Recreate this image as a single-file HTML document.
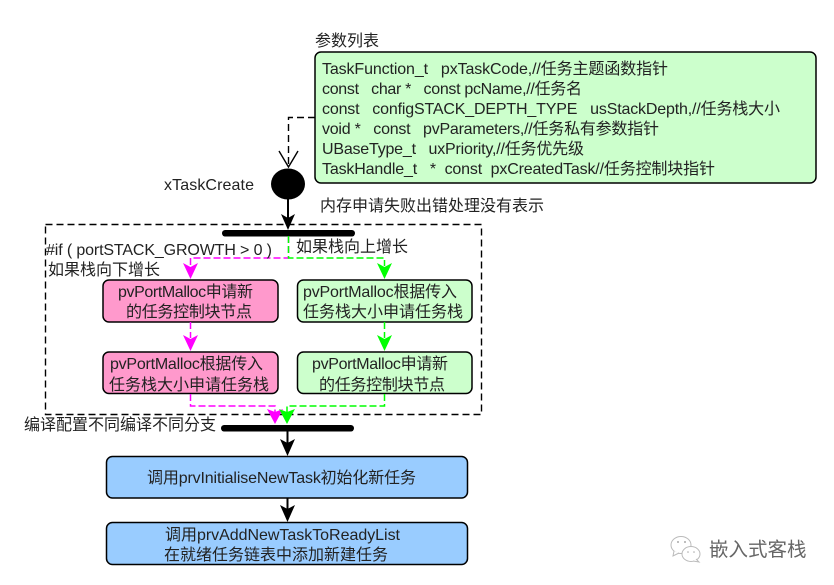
<!DOCTYPE html>
<html><head><meta charset="utf-8"><style>
html,body{margin:0;padding:0;background:#fff;width:834px;height:585px;overflow:hidden}
svg{display:block}
text{font-family:"Liberation Sans","WenQuanYi Zen Hei","Noto Sans CJK SC",sans-serif;font-size:16px;fill:#222;white-space:pre}
</style></head><body>
<svg width="834" height="585" viewBox="0 0 834 585" xmlns="http://www.w3.org/2000/svg">
<rect x="45.5" y="224.5" width="436" height="190" fill="none" stroke="#000" stroke-width="1.4" stroke-dasharray="7 4"/>
<rect x="315" y="52" width="501" height="131" rx="6" fill="#ccffcc" stroke="#000" stroke-width="1.5"/>
<text x="315" y="46">参数列表</text>
<text x="322" y="74" textLength="346">TaskFunction_t   pxTaskCode,//任务主题函数指针</text>
<text x="322" y="94" textLength="260">const   char *   const pcName,//任务名</text>
<text x="322" y="114" textLength="458">const   configSTACK_DEPTH_TYPE   usStackDepth,//任务栈大小</text>
<text x="322" y="134" textLength="337">void *   const   pvParameters,//任务私有参数指针</text>
<text x="322" y="154" textLength="262">UBaseType_t   uxPriority,//任务优先级</text>
<text x="322" y="174" textLength="393">TaskHandle_t   *  const  pxCreatedTask//任务控制块指针</text>
<path d="M315 117.500H288.500V166" fill="none" stroke="#000" stroke-width="1.4" stroke-dasharray="7 4"/>
<path d="M279 151L288.500 167L298 151" fill="none" stroke="#000" stroke-width="1.4"/>
<ellipse cx="288" cy="184" rx="17" ry="15.500" fill="#000"/>
<text x="164" y="190" textLength="90">xTaskCreate</text>
<text x="320" y="211">内存申请失败出错处理没有表示</text>
<path d="M288 199V225" stroke="#000" stroke-width="2"/>
<path d="M281 214L288 218L295 214L288 230Z" fill="#000"/>
<rect x="222" y="230" width="133" height="6.500" rx="3.200" fill="#000"/>
<path d="M288.500 236V258H190.500V266" fill="none" stroke="#ff00ff" stroke-width="1.5" stroke-dasharray="7 3"/>
<path d="M288.500 236V258H384.500V266" fill="none" stroke="#00ff00" stroke-width="1.5" stroke-dasharray="7 3"/>
<path d="M183 263L190.500 267L198 263L190.500 279Z" fill="#ff00ff"/>
<path d="M377 263L384.500 267L392 263L384.500 279Z" fill="#00ff00"/>
<text x="46" y="255" textLength="226">#if ( portSTACK_GROWTH &gt; 0 )</text>
<text x="48" y="275">如果栈向下增长</text>
<text x="296" y="252">如果栈向上增长</text>
<rect x="103" y="280" width="175" height="42" rx="6" fill="#ff99cc" stroke="#000" stroke-width="1.5"/>
<rect x="103" y="352" width="175" height="41.500" rx="6" fill="#ff99cc" stroke="#000" stroke-width="1.5"/>
<rect x="297.500" y="280" width="174.500" height="42" rx="6" fill="#ccffcc" stroke="#000" stroke-width="1.5"/>
<rect x="297.500" y="352" width="174.500" height="41.500" rx="6" fill="#ccffcc" stroke="#000" stroke-width="1.5"/>
<text x="118" y="297" textLength="135">pvPortMalloc申请新</text>
<text x="126" y="317" textLength="126">的任务控制块节点</text>
<text x="110" y="369" textLength="153">pvPortMalloc根据传入</text>
<text x="109" y="390">任务栈大小申请任务栈</text>
<text x="303" y="297" textLength="154">pvPortMalloc根据传入</text>
<text x="303" y="317">任务栈大小申请任务栈</text>
<text x="312" y="369" textLength="136">pvPortMalloc申请新</text>
<text x="319" y="390" textLength="126">的任务控制块节点</text>
<path d="M190.500 322V338" fill="none" stroke="#ff00ff" stroke-width="1.5" stroke-dasharray="7 3"/>
<path d="M384.500 322V338" fill="none" stroke="#00ff00" stroke-width="1.5" stroke-dasharray="7 3"/>
<path d="M183 335L190.500 339L198 335L190.500 351Z" fill="#ff00ff"/>
<path d="M377 335L384.500 339L392 335L384.500 351Z" fill="#00ff00"/>
<path d="M190.500 394V406H275V412" fill="none" stroke="#ff00ff" stroke-width="1.5" stroke-dasharray="7 3"/>
<path d="M384.500 394V406H287V412" fill="none" stroke="#00ff00" stroke-width="1.5" stroke-dasharray="7 3"/>
<path d="M267 409L275 412L283 409L275 424Z" fill="#ff00ff"/>
<path d="M279 409L287 412L295 409L287 424Z" fill="#00ff00"/>
<text x="24" y="430">编译配置不同编译不同分支</text>
<rect x="221" y="425" width="133" height="6.500" rx="3.200" fill="#000"/>
<path d="M287.500 431V446" stroke="#000" stroke-width="2"/>
<path d="M280 439L287.500 443L295 439L287.500 456Z" fill="#000"/>
<rect x="106.500" y="456.500" width="361" height="41.500" rx="6" fill="#99ccff" stroke="#000" stroke-width="1.5"/>
<text x="147" y="483" textLength="269">调用prvInitialiseNewTask初始化新任务</text>
<path d="M287.500 498V512" stroke="#000" stroke-width="2"/>
<path d="M280 505L287.500 509L295 505L287.500 522Z" fill="#000"/>
<rect x="106.500" y="522.500" width="361" height="42" rx="6" fill="#99ccff" stroke="#000" stroke-width="1.5"/>
<text x="165" y="540" textLength="235">调用prvAddNewTaskToReadyList</text>
<text x="164" y="560">在就绪任务链表中添加新建任务</text>
<g fill="#fff" stroke="#bbb" stroke-width="1">
<ellipse cx="681" cy="545" rx="10" ry="8.500"/>
<path d="M674 551L673 556L679 553"/>
<ellipse cx="691" cy="554" rx="9" ry="7.500"/>
<path d="M696 559L699 562L693 561"/>
</g>
<circle cx="678" cy="542" r="1" fill="#aaa"/><circle cx="685" cy="542" r="1" fill="#aaa"/>
<circle cx="688" cy="552" r="0.800" fill="#aaa"/><circle cx="694" cy="552" r="0.800" fill="#aaa"/>
<text x="709" y="556" style="font-size:19.500px;fill:#666">嵌入式客栈</text>
</svg>
</body></html>
